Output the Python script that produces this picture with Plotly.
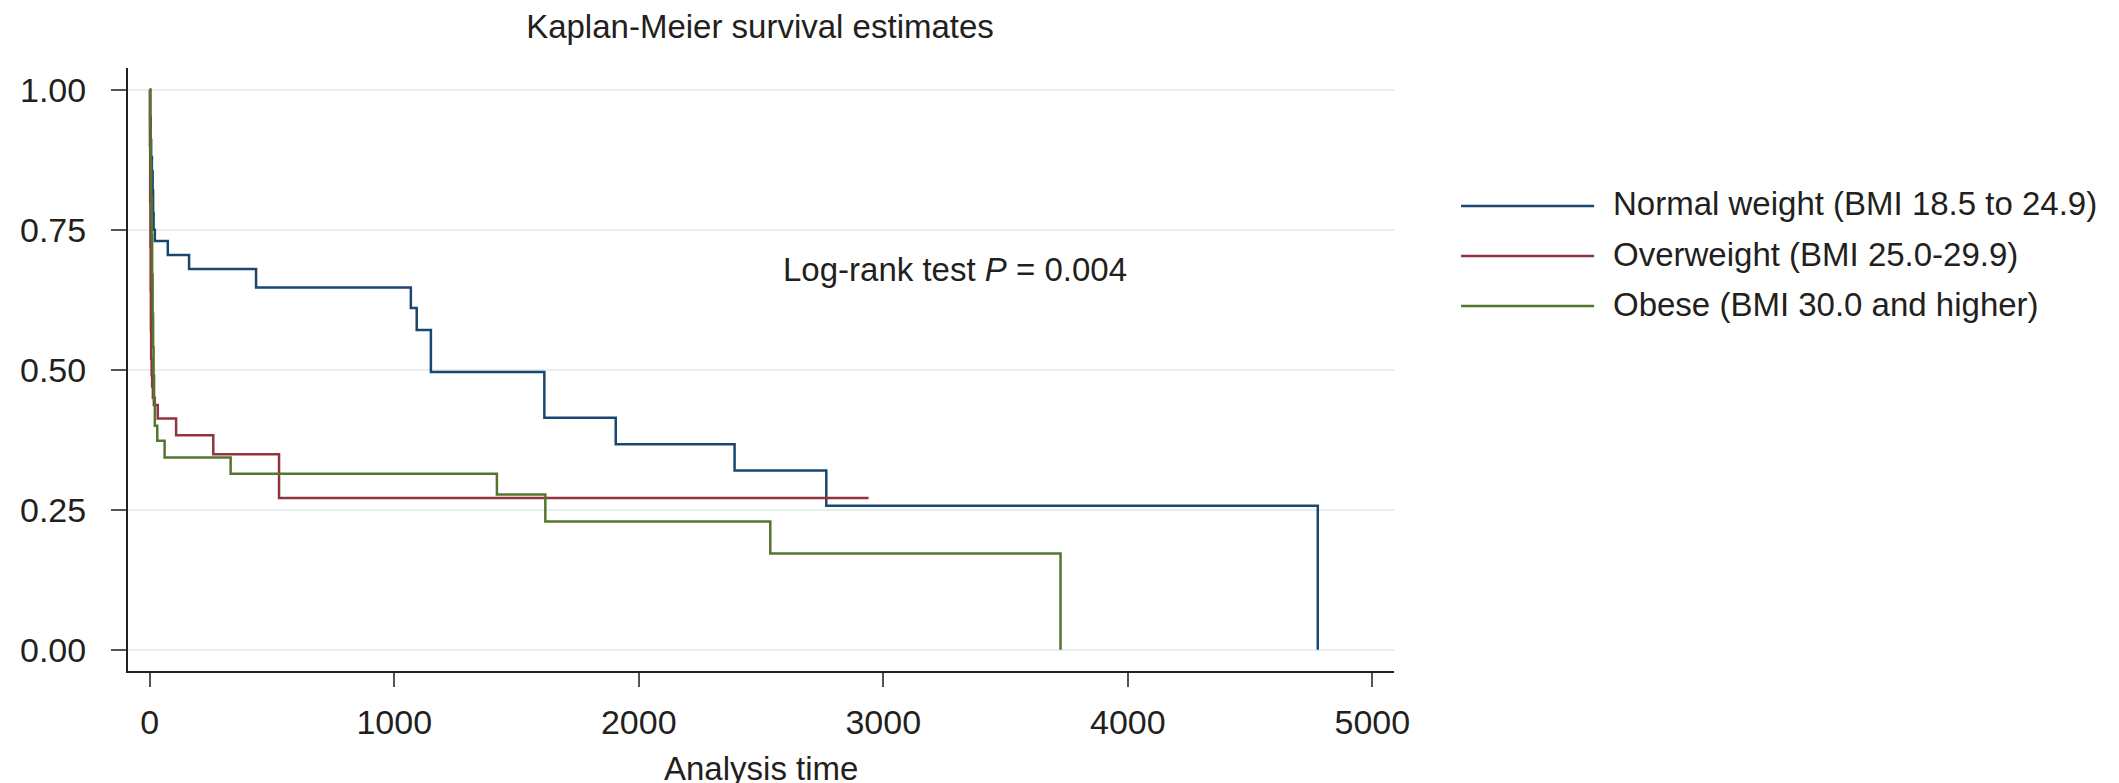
import plotly.graph_objects as go

# ---------------- data ----------------
TITLE = "Kaplan-Meier survival estimates"
X_TITLE = "Analysis time"
ANNOT = "Log-rank test <i>P</i> = 0.004"

group_names = [
    "Normal weight (BMI 18.5 to 24.9)",
    "Overweight (BMI 25.0-29.9)",
    "Obese (BMI 30.0 and higher)",
]

normal_time = [0, 2, 4, 6, 9, 12, 14, 16, 21, 74, 161, 435, 1068, 1092, 1150,
               1614, 1906, 2392, 2767, 4777]
normal_surv = [1.0, 0.95, 0.91, 0.88, 0.855, 0.82, 0.78, 0.75, 0.73, 0.705, 0.68,
               0.647, 0.61, 0.571, 0.496, 0.414, 0.367, 0.320, 0.257, 0.0]

over_time = [0, 1, 2, 3, 4, 5, 6, 8, 10, 13, 17, 33, 108, 260, 529, 2940]
over_surv = [1.0, 0.90, 0.80, 0.72, 0.64, 0.57, 0.52, 0.49, 0.47, 0.45, 0.437,
             0.413, 0.383, 0.349, 0.271, 0.271]

obese_time = [0, 2, 4, 6, 8, 10, 12, 14, 16, 18, 21, 31, 61, 331, 1420, 1618,
              2538, 3725]
obese_surv = [1.0, 0.94, 0.87, 0.81, 0.74, 0.67, 0.60, 0.54, 0.49, 0.45, 0.40,
              0.373, 0.343, 0.314, 0.277, 0.229, 0.172, 0.0]

x_tick_values = [0, 1000, 2000, 3000, 4000, 5000]
y_tick_values = [0, 0.25, 0.5, 0.75, 1.0]
y_tick_labels = ["0.00", "0.25", "0.50", "0.75", "1.00"]

# ---------------- styling ----------------
colors = ["#1a476f", "#90353b", "#55752f"]
FONT = "Liberation Sans, Arial, sans-serif"
TXT = "#231f20"
FS = 33
FS_TICK = 34

W, H = 2119, 783
L, R, T, B = 102, 1386, 60, 663  # plot area in pixels


def px_x(p):
    return (p - L) / (R - L)


def px_y(p):
    return (B - p) / (B - T)


series = [(normal_time, normal_surv), (over_time, over_surv), (obese_time, obese_surv)]

fig = go.Figure()
for (t, s), name, c in zip(series, group_names, colors):
    fig.add_trace(go.Scatter(
        x=t, y=s, mode="lines", name=name,
        line=dict(shape="hv", color=c, width=2.5),
        showlegend=False, hoverinfo="skip",
    ))

# manual legend (long line samples as in the reference)
shapes = []
annotations = []
legend_rows = [198, 248, 298]
for name, c, ry in zip(group_names, colors, legend_rows):
    shapes.append(dict(type="line", xref="paper", yref="paper",
                       x0=px_x(1454), x1=px_x(1589), y0=px_y(ry), y1=px_y(ry),
                       line=dict(color=c, width=2.5)))
    annotations.append(dict(xref="paper", yref="paper", x=px_x(1606), y=px_y(ry - 2),
                            xanchor="left", yanchor="middle", showarrow=False,
                            text=name, font=dict(family=FONT, size=FS, color=TXT)))

annotations.append(dict(xref="paper", yref="paper", x=px_x(764), y=px_y(261),
                        xanchor="left", yanchor="middle", showarrow=False,
                        text=ANNOT, font=dict(family=FONT, size=FS, color=TXT)))

# x-axis title placed explicitly (kept inside the page)
annotations.append(dict(xref="paper", yref="paper", x=px_x(744), y=px_y(760),
                        xanchor="center", yanchor="middle", showarrow=False,
                        text=X_TITLE, font=dict(family=FONT, size=FS, color=TXT)))

x0_px, x5000_px = 124, 1364
ppu = (x5000_px - x0_px) / 5000
xr = [(L - x0_px) / ppu, (R - x0_px) / ppu]
y1_px, y0_px = 81.7, 641.7
ppy = (y0_px - y1_px)
yr = [(y0_px - B) / ppy, (y0_px - T) / ppy]

fig.update_layout(
    width=W, height=H,
    margin=dict(l=L, r=W - R, t=T, b=H - B, pad=0),
    paper_bgcolor="white", plot_bgcolor="white",
    font=dict(family=FONT, size=FS, color=TXT),
    title=dict(text=TITLE, x=752 / W, xanchor="center", xref="container",
               y=1 - 18 / H, yanchor="middle", yref="container",
               font=dict(family=FONT, size=FS, color=TXT)),
    shapes=shapes, annotations=annotations,
    showlegend=False,
    xaxis=dict(range=xr, tickvals=x_tick_values, showgrid=False, zeroline=False,
               showline=True, linecolor=TXT, linewidth=2,
               ticks="outside", ticklen=14, tickwidth=2, tickcolor="#555555",
               ticklabelstandoff=6,
               tickfont=dict(family=FONT, size=FS_TICK, color=TXT)),
    yaxis=dict(range=yr, tickvals=y_tick_values, ticktext=y_tick_labels,
               showgrid=True, gridcolor="#e6eff1", gridwidth=2, zeroline=False,
               showline=True, linecolor=TXT, linewidth=2,
               ticks="outside", ticklen=15, tickwidth=2, tickcolor="#555555",
               ticklabelstandoff=18,
               tickfont=dict(family=FONT, size=FS_TICK, color=TXT)),
)

fig.write_html("out.html")
